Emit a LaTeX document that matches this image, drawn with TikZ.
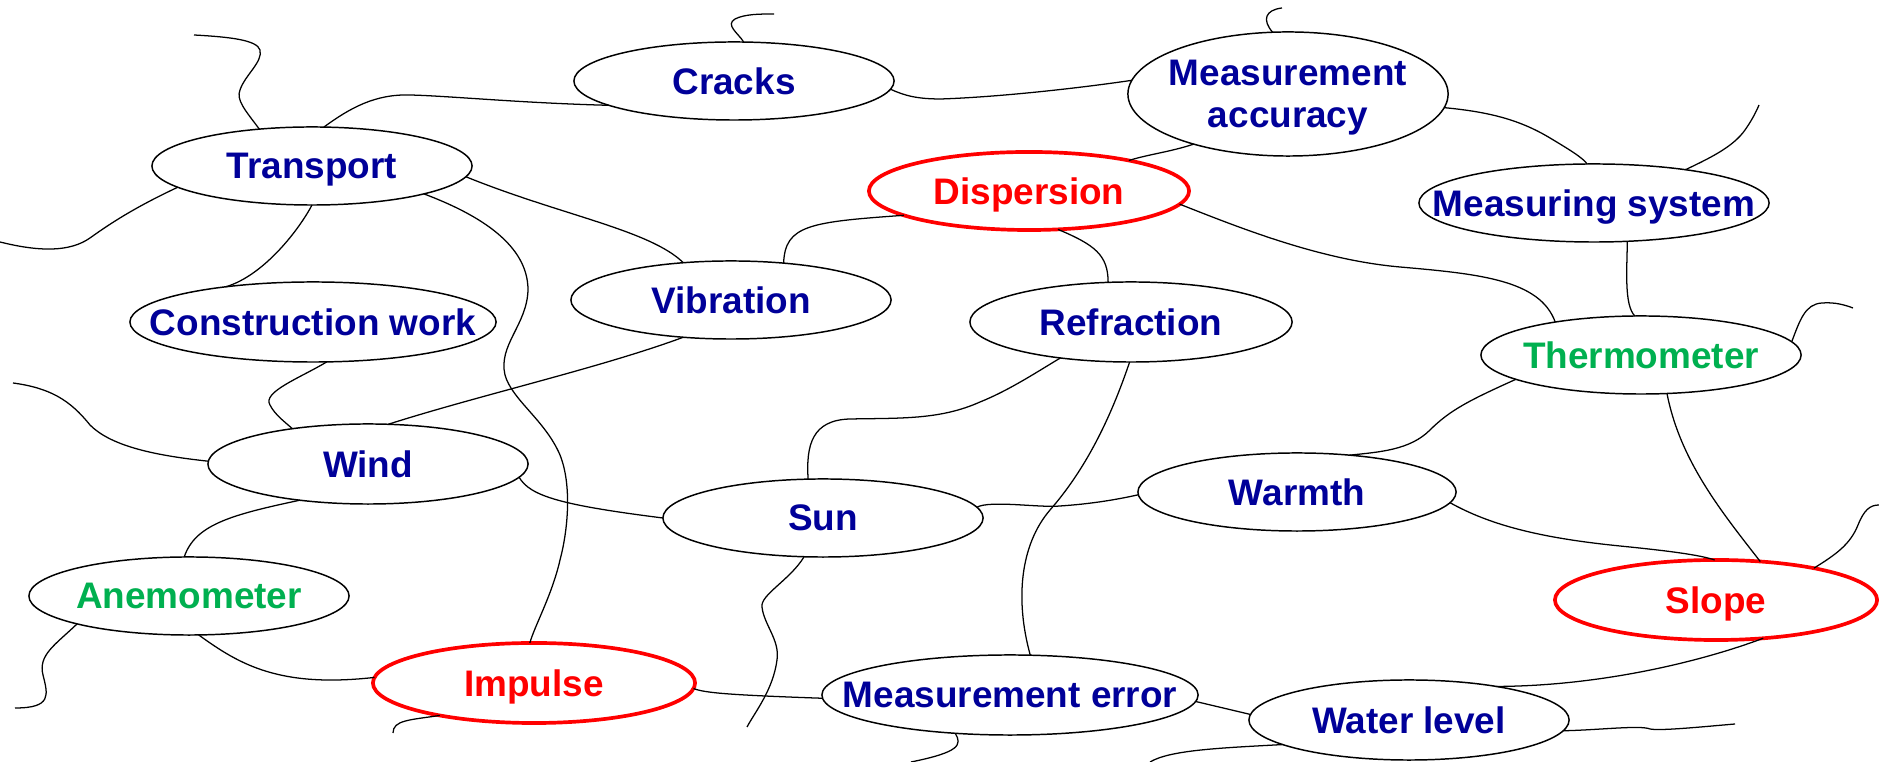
\documentclass[tikz,border=0pt]{standalone}
\usepackage{fontspec}
\setmainfont{Liberation Sans}
\usepackage{tikz}
\usetikzlibrary{shapes.geometric}
\usepackage{xcolor}
\definecolor{termblue}{RGB}{0,0,153}
\definecolor{termgreen}{RGB}{0,176,80}

\begin{document}
\begin{tikzpicture}[
        x=0.01cm, y=-0.01cm,
        term/.style={ellipse, draw, line width=0.42pt, fill=white, inner xsep=-4cm, inner ysep=0pt, outer sep=0pt,
            minimum width=3.2cm, minimum height=0.78cm, align=center, text depth=0pt, text=termblue,
            font=\fontsize{10.5}{12}\selectfont\bfseries},
        tool/.style={term, text=termgreen},
        key/.style={term, draw=red, line width=1.05pt, text=red},
        link/.style={line width=0.36pt}
    ]
        \useasboundingbox (0,0) rectangle (1879,762);

        % Terms
        \node[term] (cracks) at (734,81) {Cracks};
        \node[term, minimum height=1.24cm] (accuracy) at (1288,94) {Measurement\\accuracy};
        \node[term] (transport) at (312,166) {Transport};
        \node[key] (dispersion) at (1029,191) {Dispersion};
        \node[term, minimum width=3.5cm] (system) at (1594,203) {Measuring system};
        \node[term] (vibration) at (731,300) {Vibration};
        \node[term, minimum width=3.66cm, minimum height=0.8cm] (construction) at (313,322) {Construction work};
        \node[term, minimum width=3.22cm, minimum height=0.8cm] (refraction) at (1131,322) {Refraction};
        \node[tool] (thermo) at (1641,355) {Thermometer};
        \node[term, minimum height=0.8cm] (wind) at (368,464) {Wind};
        \node[term, minimum width=3.18cm] (warmth) at (1297,492) {Warmth};
        \node[term] (sun) at (823,518) {Sun};
        \node[tool] (anemo) at (189,596) {Anemometer};
        \node[key, minimum width=3.22cm, minimum height=0.8cm] (slope) at (1716,600) {Slope};
        \node[key, minimum width=3.22cm, minimum height=0.8cm] (impulse) at (534,683) {Impulse};
        \node[term, minimum width=3.76cm, minimum height=0.8cm] (error) at (1010,695) {Measurement error};
        \node[term, minimum height=0.8cm] (water) at (1409,720) {Water level};

        % Loose ends
        \coordinate (transportEnd) at (194,35);
        \coordinate (cracksEnd) at (774,14);
        \coordinate (accuracyEnd) at (1282,8);
        \coordinate (systemEnd) at (1759,105);
        \coordinate (thermoEnd) at (1853,308);
        \coordinate (leftEnd) at (0,242);
        \coordinate (windEnd) at (13,383);
        \coordinate (anemoEnd) at (15,708);
        \coordinate (impulseEnd) at (393,733);
        \coordinate (sunEnd) at (747,727);
        \coordinate (errorEnd) at (911,762);
        \coordinate (waterEndA) at (1150,762);
        \coordinate (waterEndB) at (1735,724);
        \coordinate (slopeEnd) at (1879,505);

        % Top row
        \draw[link] (transport.145) .. controls (245,110) and (236,100) .. (240,90) .. controls (245,75) and (263,62) .. (260,50) .. controls (257,40) and (230,37) .. (transportEnd);
        \draw[link] (transport.73) .. controls (350,108) and (375,94) .. (410,95) .. controls (450,96) and (520,103) .. (cracks.191);
        \draw[link] (cracks.76) .. controls (738,33) and (725,25) .. (735,19) .. controls (745,14) and (760,14) .. (cracksEnd);
        \draw[link] (cracks.-3) .. controls (905,96) and (918,99) .. (941,99) .. controls (1000,97) and (1080,88) .. (accuracy.175);
        \draw[link] (accuracy.104) .. controls (1262,20) and (1265,10) .. (accuracyEnd);
        \draw[link] (accuracy.208) .. controls (1170,152) and (1150,154) .. (dispersion.17);
        \draw[link] (accuracy.-5) .. controls (1490,112) and (1520,120) .. (1550,138) .. controls (1570,150) and (1583,158) .. (system.100);
        \draw[link] (system.20) .. controls (1710,158) and (1733,147) .. (1745,130) .. controls (1752,120) and (1756,112) .. (systemEnd);
        \draw[link] (system.-49) .. controls (1627,270) and (1624,305) .. (thermo.99);
        \draw[link] (thermo.5) .. controls (1800,320) and (1805,304) .. (1822,303) .. controls (1835,302) and (1845,305) .. (thermoEnd);

        % Dispersion
        \draw[link] (dispersion.-5) .. controls (1240,228) and (1320,260) .. (1400,267) .. controls (1480,274) and (1540,280) .. (thermo.159);
        \draw[link] (dispersion.191) .. controls (810,222) and (785,225) .. (vibration.35);
        \draw[link] (dispersion.-53) .. controls (1095,245) and (1108,255) .. (refraction.120);

        % Transport
        \draw[link] (transport.-4) .. controls (560,215) and (650,230) .. (vibration.142);
        \draw[link] (transport.-14) .. controls (480,215) and (528,245) .. (528,290) .. controls (527,325) and (498,345) .. (505,375) .. controls (512,400) and (545,420) .. (560,455) .. controls (572,485) and (568,530) .. (560,560) .. controls (552,595) and (535,625) .. (impulse.96);
        \draw[link] (transport.-90) .. controls (300,228) and (265,275) .. (construction.158);
        \draw[link] (transport.189) .. controls (140,205) and (115,220) .. (90,238) .. controls (70,252) and (40,252) .. (leftEnd);

        % Wind
        \draw[link] (construction.-71) .. controls (300,378) and (262,392) .. (270,405) .. controls (275,415) and (285,422) .. (wind.155);
        \draw[link] (vibration.218) .. controls (600,368) and (480,395) .. (wind.63);
        \draw[link] (wind.179) .. controls (150,455) and (110,445) .. (90,425) .. controls (70,400) and (50,388) .. (windEnd);
        \draw[link] (wind.208) .. controls (230,515) and (195,525) .. (anemo.97);
        \draw[link] (wind.-5) .. controls (530,496) and (560,505) .. (sun.180);

        % Bottom left
        \draw[link] (anemo.194) .. controls (55,645) and (38,655) .. (43,675) .. controls (48,695) and (52,708) .. (anemoEnd);
        \draw[link] (anemo.-76) .. controls (240,665) and (280,688) .. (impulse.178);
        \draw[link] (impulse.199) .. controls (410,720) and (393,720) .. (impulseEnd);
        \draw[link] (impulse.-2) .. controls (705,693) and (730,695) .. (error.181);

        % Sun
        \draw[link] (sun.244) .. controls (790,580) and (760,595) .. (762,607) .. controls (764,625) and (780,640) .. (777,660) .. controls (773,690) and (755,712) .. (sunEnd);
        \draw[link] (sun.111) .. controls (806,445) and (812,420) .. (850,419) .. controls (900,418) and (940,420) .. (980,402) .. controls (1010,390) and (1040,370) .. (refraction.207);
        \draw[link] (sun.4) .. controls (990,500) and (1040,508) .. (1060,506) .. controls (1090,504) and (1115,500) .. (warmth.181);
        \draw[link] (refraction.-92) .. controls (1110,420) and (1085,470) .. (1050,510) .. controls (1020,545) and (1015,600) .. (error.63);

        % Right side
        \draw[link] (thermo.191) .. controls (1470,400) and (1450,410) .. (1430,430) .. controls (1410,450) and (1380,452) .. (warmth.35);
        \draw[link] (thermo.-56) .. controls (1680,460) and (1720,510) .. (slope.41);
        \draw[link] (warmth.-4) .. controls (1490,525) and (1540,538) .. (1620,546) .. controls (1670,551) and (1700,555) .. (slope.92);
        \draw[link] (slope.18) .. controls (1835,555) and (1850,545) .. (1858,525) .. controls (1864,510) and (1870,505) .. (slopeEnd);
        \draw[link] (slope.-39) .. controls (1700,662) and (1600,686) .. (water.21);

        % Bottom right
        \draw[link] (error.-2) -- (water.178);
        \draw[link] (error.215) .. controls (962,745) and (960,752) .. (errorEnd);
        \draw[link] (water.191) .. controls (1220,748) and (1170,750) .. (waterEndA);
        \draw[link] (water.-4) .. controls (1600,730) and (1640,725) .. (1650,729) .. controls (1660,731) and (1700,727) .. (waterEndB);
    \end{tikzpicture}
\end{document}
